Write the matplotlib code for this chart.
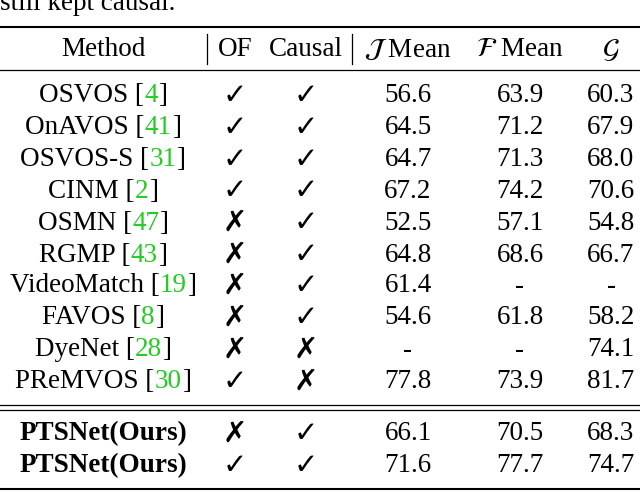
import matplotlib
matplotlib.use('Agg')
import matplotlib.pyplot as plt

plt.rcParams['font.family'] = ['Liberation Serif', 'DejaVu Sans']
plt.rcParams['mathtext.fontset'] = 'stix'

methods = ['OSVOS', 'OnAVOS', 'OSVOS-S', 'CINM', 'OSMN', 'RGMP', 'VideoMatch',
           'FAVOS', 'DyeNet', 'PReMVOS', 'PTSNet(Ours)', 'PTSNet(Ours)']
cites = ['4', '41', '31', '2', '47', '43', '19', '8', '28', '30', None, None]
of = [1, 1, 1, 1, 0, 0, 0, 0, 0, 1, 0, 1]
causal = [1, 1, 1, 1, 1, 1, 1, 1, 0, 0, 1, 1]
j_mean = ['56.6', '64.5', '64.7', '67.2', '52.5', '64.8', '61.4', '54.6', '-', '77.8', '66.1', '71.6']
f_mean = ['63.9', '71.2', '71.3', '74.2', '57.1', '68.6', '-', '61.8', '-', '73.9', '70.5', '77.7']
g_mean = ['60.3', '67.9', '68.0', '70.6', '54.8', '66.7', '-', '58.2', '74.1', '81.7', '68.3', '74.7']

row_y = [96, 128, 160, 191, 223, 255, 286, 318, 350, 382, 434, 466]
col_x = [103, 235, 306, 408, 520, 611]
fs = 19.5
green = '#22cc22'

fig = plt.figure(figsize=(6.4, 4.93), dpi=100)
ax = fig.add_axes([0, 0, 1, 1])
ax.set_xlim(0, 640)
ax.set_ylim(493, 0)
ax.axis('off')

ax.text(0, 4, 'still kept causal.', fontsize=fs, va='center', ha='left')

# rules
for y, lw in [(27, 1.5), (70, 0.9), (405, 0.9), (410, 0.9), (489, 1.5)]:
    ax.plot([0, 640], [y, y], color='black', lw=lw)
for x in [207, 352]:
    ax.plot([x, x], [34, 64], color='black', lw=0.9)

headers = ['Method', 'OF', 'Causal', r'$\mathcal{J}$ Mean', r'$\mathcal{F}$ Mean', r'$\mathcal{G}$']
for x, h in zip(col_x, headers):
    ax.text(x, 50, h, fontsize=fs, ha='center', va='center')

fig.canvas.draw()
r = fig.canvas.get_renderer()

def width(s, **kw):
    t = ax.text(0, 0, s, fontsize=fs, **kw)
    w = t.get_window_extent(r).width
    t.remove()
    return w

for i, y in enumerate(row_y):
    bold = i >= 10
    weight = 'bold' if bold else 'normal'
    if cites[i] is None:
        ax.text(col_x[0], y, methods[i], fontsize=fs, ha='center', va='center', weight=weight)
    else:
        parts = [(methods[i] + ' [', 'black'), (cites[i], green), (']', 'black')]
        total = sum(width(p) for p, _ in parts)
        x = col_x[0] - total / 2
        for p, c in parts:
            ax.text(x, y, p, fontsize=fs, ha='left', va='center', color=c)
            x += width(p)
    ax.text(col_x[1], y, '✓' if of[i] else '✗', fontsize=21, ha='center', va='center',
            family='DejaVu Sans', weight='bold')
    ax.text(col_x[2], y, '✓' if causal[i] else '✗', fontsize=21, ha='center', va='center',
            family='DejaVu Sans', weight='bold')
    ax.text(col_x[3], y, j_mean[i], fontsize=fs, ha='center', va='center')
    ax.text(col_x[4], y, f_mean[i], fontsize=fs, ha='center', va='center')
    ax.text(col_x[5], y, g_mean[i], fontsize=fs, ha='center', va='center')

fig.savefig('out.png', dpi=100)
